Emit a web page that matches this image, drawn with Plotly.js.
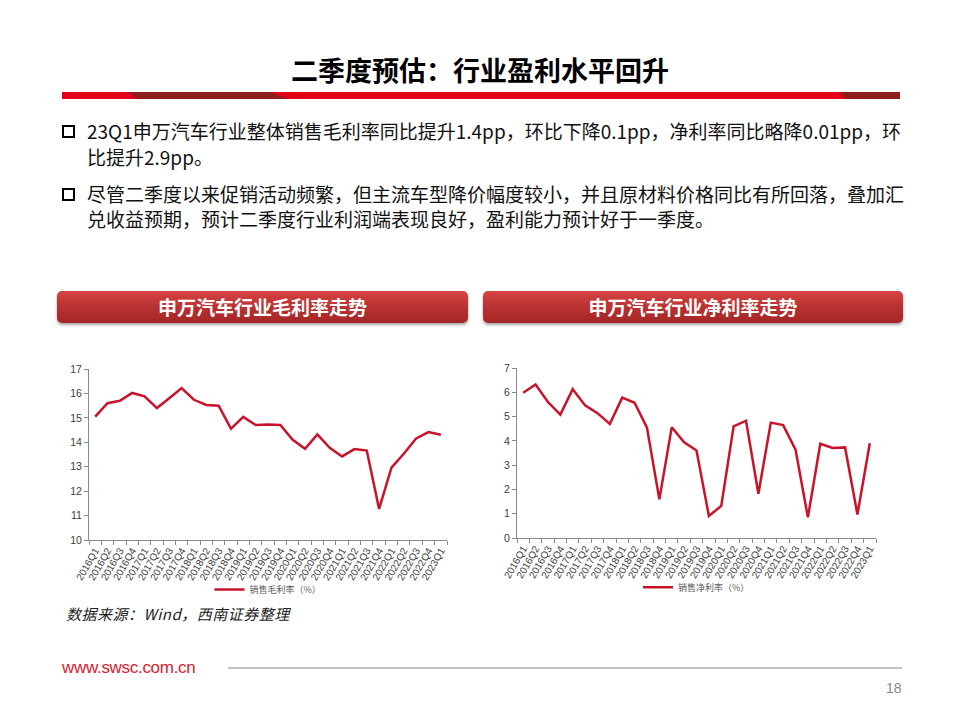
<!DOCTYPE html>
<html>
<head>
<meta charset="utf-8">
<script src="https://cdn.plot.ly/plotly-3.0.1.min.js"></script>
<style>
  html, body { margin:0; padding:0; background:#fff; }
  body { width:960px; height:720px; position:relative; overflow:hidden; font-family:"Noto Sans CJK SC","Noto Sans",sans-serif; }
  .abs { position:absolute; }
  .title { left:0; width:960px; top:50px; text-align:center; font-size:27px; font-weight:bold; color:#000; line-height:40px; }
  .bar { left:62px; top:92px; width:838px; height:7px; background:#e50019; }
  .dark { top:92px; height:7px; background:#8e1d1d; }
  .sq { width:9px; height:9px; border:2px solid #000; }
  .txt { left:87px; font-size:19px; line-height:26px; color:#111; white-space:nowrap; }
  .hdr { top:291px; height:32px; border-radius:5px; background:linear-gradient(#d64442,#b63030 55%,#a42626); box-shadow:0 2px 3px rgba(0,0,0,0.35); color:#fff; font-weight:bold; font-size:19px; line-height:32px; text-align:center; }
  .src { left:66px; top:603px; font-size:15px; font-style:italic; color:#222; line-height:22px; letter-spacing:0.5px; }
  .url { left:62px; top:657px; font-family:"Liberation Sans",Arial,sans-serif; font-size:17px; color:#d9202c; line-height:22px; letter-spacing:-0.3px; }
  .hr { left:228px; top:667px; width:674px; height:2px; background:#c4c4c4; }
  .pg { left:886px; top:679px; font-family:"Liberation Sans",Arial,sans-serif; font-size:14px; color:#8a8a8a; line-height:18px; }
</style>
</head>
<body>
<div class="abs title">二季度预估：行业盈利水平回升</div>
<div class="abs bar"></div>
<div class="abs dark" style="left:129px;width:160px;clip-path:polygon(0 0, 88% 0, 100% 100%, 5% 100%);"></div>
<div class="abs dark" style="left:840px;width:60px;clip-path:polygon(0 0, 100% 0, 100% 100%, 10% 100%);"></div>

<div class="abs sq" style="left:62px;top:125px;"></div>
<div class="abs txt" style="top:118px;">23Q1申万汽车行业整体销售毛利率同比提升1.4pp，环比下降0.1pp，净利率同比略降0.01pp，环</div>
<div class="abs txt" style="top:144px;">比提升2.9pp。</div>
<div class="abs sq" style="left:62px;top:188px;"></div>
<div class="abs txt" style="top:181px;">尽管二季度以来促销活动频繁，但主流车型降价幅度较小，并且原材料价格同比有所回落，叠加汇</div>
<div class="abs txt" style="top:206px;">兑收益预期，预计二季度行业利润端表现良好，盈利能力预计好于一季度。</div>

<div class="abs hdr" style="left:57px;width:411px;">申万汽车行业毛利率走势</div>
<div class="abs hdr" style="left:483px;width:420px;">申万汽车行业净利率走势</div>

<div id="c1" class="abs" style="left:50px;top:350px;width:420px;height:255px;"></div>
<div id="c2" class="abs" style="left:490px;top:350px;width:420px;height:255px;"></div>

<div class="abs src">数据来源：Wind，西南证券整理</div>
<div class="abs url">www.swsc.com.cn</div>
<div class="abs hr"></div>
<div class="abs pg">18</div>

<script>
const quarters = ["2016Q1","2016Q2","2016Q3","2016Q4","2017Q1","2017Q2","2017Q3","2017Q4",
  "2018Q1","2018Q2","2018Q3","2018Q4","2019Q1","2019Q2","2019Q3","2019Q4",
  "2020Q1","2020Q2","2020Q3","2020Q4","2021Q1","2021Q2","2021Q3","2021Q4",
  "2022Q1","2022Q2","2022Q3","2022Q4","2023Q1"];
const grossMargin = [15.05,15.6,15.7,16.02,15.88,15.4,15.8,16.22,15.74,15.53,15.5,14.56,
  15.04,14.71,14.73,14.71,14.1,13.73,14.32,13.77,13.42,13.72,13.66,11.27,
  12.96,13.53,14.16,14.42,14.31];
const netMargin = [5.98,6.32,5.6,5.08,6.13,5.46,5.14,4.7,5.78,5.57,4.54,1.59,
  4.56,3.94,3.6,0.91,1.32,4.6,4.83,1.82,4.75,4.65,3.64,0.85,
  3.88,3.71,3.73,0.97,3.9];
const grossName = "销售毛利率（%）";
const netName = "销售净利率（%）";

const lineColor = "#c8142b";
const axisColor = "#8a8a8a";
const tickFont = {family:"Liberation Sans, Arial, sans-serif", size:10, color:"#404040"};

function makeLayout(m, yr, legY) {
  return {
    width:420, height:255,
    margin:{l:m[0], r:m[1], t:m[2], b:m[3], autoexpand:false},
    paper_bgcolor:"rgba(0,0,0,0)", plot_bgcolor:"rgba(0,0,0,0)",
    showlegend:true,
    legend:{orientation:"h", x:0.5, xanchor:"center", y:legY, yanchor:"middle",
      font:{family:"Noto Sans CJK SC", size:9, color:"#606060"}, bgcolor:"rgba(0,0,0,0)"},
    xaxis:{type:"category", range:[-0.5, quarters.length - 0.5], autorange:false,
      tickmode:"linear", tick0:0, dtick:1, tickson:"boundaries",
      tickangle:-60, tickfont:tickFont, showline:true, linecolor:axisColor, linewidth:1,
      ticks:"outside", ticklen:4, tickcolor:axisColor, showgrid:false, zeroline:false,
      automargin:false, fixedrange:true},
    yaxis:{range:yr, dtick:1, tick0:0, tickfont:{family:"Liberation Sans, Arial, sans-serif", size:10.5, color:"#404040"},
      showline:true, linecolor:axisColor, linewidth:1, ticks:"outside", ticklen:4, tickcolor:axisColor,
      showgrid:false, zeroline:false, automargin:false, fixedrange:true}
  };
}

Plotly.newPlot("c1", [{x:quarters, y:grossMargin, type:"scatter", mode:"lines", name:grossName,
  line:{color:lineColor, width:2.5}}], makeLayout([39,23,19,65],[10,17],-0.29), {displayModeBar:false, staticPlot:true});
Plotly.newPlot("c2", [{x:quarters, y:netMargin, type:"scatter", mode:"lines", name:netName,
  line:{color:lineColor, width:2.5}}], makeLayout([27,34,18,67],[0,7],-0.29), {displayModeBar:false, staticPlot:true});
</script>
</body>
</html>
